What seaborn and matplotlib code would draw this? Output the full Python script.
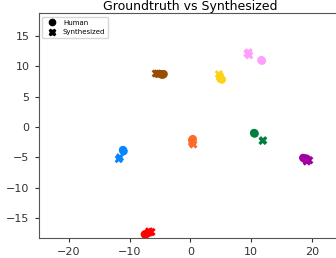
import pandas as pd
import seaborn as sns
import matplotlib.pyplot as plt
from matplotlib.lines import Line2D

# cluster colours
clusters = ["blue", "red", "brown", "orange", "yellow", "pink", "green", "purple"]
colors = ["#0a84ff", "#ff0000", "#9a4c00", "#ff6a2a", "#ffd21a", "#ffa0ff", "#007f3f", "#a000a0"]

# human points (a few per cluster)
human_x = [[-11.1, -11.0], [-7.5, -7.2, -7.0], [-4.9, -4.6, -4.4], [0.4, 0.3], [5.0, 5.2, 4.9],
           [11.7, 11.8], [10.5, 10.6], [18.6, 18.9, 19.1]]
human_y = [[-3.8, -4.0], [-17.7, -17.6, -17.5], [8.7, 8.6, 8.7], [-2.0, -2.2], [7.9, 7.8, 8.1],
           [11.0, 10.9], [-1.0, -1.1], [-5.1, -5.3, -5.2]]
# synthesized points
synth_x = [[-11.8, -11.6], [-6.7, -6.4, -6.8], [-5.7, -5.4, -5.2], [0.3, 0.5, 0.3], [4.7, 4.9],
           [9.4, 9.7, 9.6], [12.0, 11.9], [19.3, 19.6, 19.2]]
synth_y = [[-5.3, -5.0], [-17.4, -17.3, -17.2], [8.8, 8.8, 8.7], [-2.6, -2.9, -2.4], [8.7, 8.3],
           [12.1, 11.8, 12.3], [-2.2, -2.3], [-5.4, -5.5, -5.7]]

rows = []
for i, c in enumerate(clusters):
    for x, y in zip(human_x[i], human_y[i]):
        rows.append((x, y, c, "Human"))
    for x, y in zip(synth_x[i], synth_y[i]):
        rows.append((x, y, c, "Synthesized"))
df = pd.DataFrame(rows, columns=["x", "y", "cluster", "source"])

fig = plt.figure(figsize=(3.36, 2.58), dpi=100)
ax = fig.add_axes([0.115, 0.0775, 0.903, 0.8705])

sns.scatterplot(data=df, x="x", y="y", hue="cluster", style="source",
                palette=dict(zip(clusters, colors)),
                markers={"Human": "o", "Synthesized": "X"},
                s=36, linewidth=0, legend=False, ax=ax)

ax.set_xlim(-25, 25)
ax.set_ylim(-18.3, 18.7)
ax.set_xticks([-20, -10, 0, 10, 20])
ax.set_yticks([-15, -10, -5, 0, 5, 10, 15])
ax.set_xlabel("")
ax.set_ylabel("")
ax.tick_params(labelsize=8, length=3, colors="#333333")
for sp in ax.spines.values():
    sp.set_color("#555555")
ax.set_title("Groundtruth vs Synthesized", fontsize=9, pad=2)

handles = [Line2D([], [], marker="o", color="black", linestyle="", markersize=4.5, label="Human"),
           Line2D([], [], marker="X", color="black", linestyle="", markersize=4.5, label="Synthesized")]
ax.legend(handles=handles, loc="upper left", fontsize=5, handletextpad=0.6,
          borderpad=0.4, labelspacing=0.5, frameon=True)

fig.savefig("out.png", dpi=100)
